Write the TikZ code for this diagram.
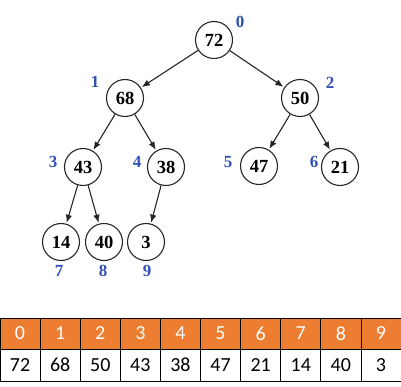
\documentclass[tikz,border=0pt]{standalone}
\usepackage{fontspec}
\setmainfont{Liberation Serif}
\newfontfamily\tabfont{Carlito}
\usetikzlibrary{arrows.meta}
\definecolor{idxblue}{HTML}{3050B8}
\definecolor{hdrorange}{HTML}{ED7D31}
\begin{document}
\begin{tikzpicture}[x=1pt,y=-1pt,
  hnode/.style={circle,draw=black!85,line width=1.1pt,minimum size=37pt,inner sep=0pt,font=\fontsize{18.5}{20}\selectfont\bfseries},
  idx/.style={text=idxblue,font=\fontsize{17}{18}\selectfont\bfseries,inner sep=0pt},
  edge/.style={draw=black!85,line width=1.1pt,-{Latex[length=8pt,width=6.5pt]},shorten >=1pt},
  hcell/.style={draw=black,line width=0.8pt,fill=hdrorange},
  vcell/.style={draw=black,line width=0.8pt,fill=white},
  htext/.style={text=white,font=\tabfont\fontsize{20}{22}\selectfont},
  vtext/.style={text=black,font=\tabfont\fontsize{20}{22}\selectfont}]
\useasboundingbox (0,0) rectangle (401,387);
% tree nodes
\node[hnode] (n0) at (214,40) {72};
\node[hnode] (n1) at (125,98) {68};
\node[hnode] (n2) at (300,98) {50};
\node[hnode] (n3) at (83,167) {43};
\node[hnode] (n4) at (166,167) {38};
\node[hnode] (n5) at (259,166) {47};
\node[hnode] (n6) at (340,167) {21};
\node[hnode] (n7) at (61,242) {14};
\node[hnode] (n8) at (104,242) {40};
\node[hnode] (n9) at (146,242) {3};
% index labels
\node[idx] (i0) at (240,22) {0};
\node[idx] (i1) at (95,82) {1};
\node[idx] (i2) at (330,83) {2};
\node[idx] (i3) at (53,162) {3};
\node[idx] (i4) at (137,162) {4};
\node[idx] (i5) at (228,162) {5};
\node[idx] (i6) at (314,162) {6};
\node[idx] (i7) at (59,271) {7};
\node[idx] (i8) at (103,271) {8};
\node[idx] (i9) at (147,271) {9};
% edges
\draw[edge] (n0) -- (n1);
\draw[edge] (n0) -- (n2);
\draw[edge] (n1) -- (n3);
\draw[edge] (n1) -- (n4);
\draw[edge] (n2) -- (n5);
\draw[edge] (n2) -- (n6);
\draw[edge] (n3) -- (n7);
\draw[edge] (n3) -- (n8);
\draw[edge] (n4) -- (n9);
% table
\foreach \i/\v in {0/72,1/68,2/50,3/43,4/38,5/47,6/21,7/14,8/40,9/3}{
  \path[hcell] ({\i*40.1},318) rectangle ({(\i+1)*40.1},349);
  \path[vcell] ({\i*40.1},349) rectangle ({(\i+1)*40.1},381);
  \node[htext] (h\i) at ({(\i+0.5)*40.1},333.5) {\i};
  \node[vtext] (v\i) at ({(\i+0.5)*40.1},365) {\v};
}
\end{tikzpicture}
\end{document}
